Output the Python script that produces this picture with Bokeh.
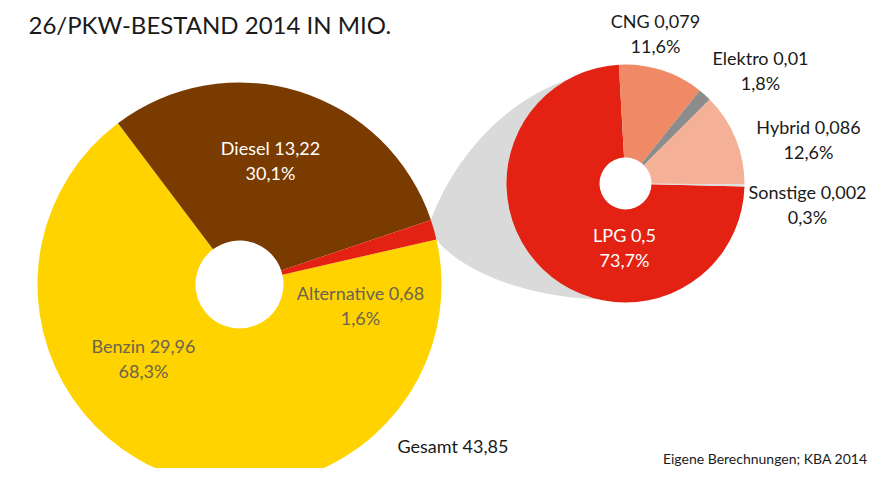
import math
from bokeh.plotting import figure
from bokeh.models import Range1d, ColumnDataSource
from bokeh.core.properties import value
from bokeh.embed import file_html
from bokeh.resources import INLINE

# ---------------- data ----------------
title_text = "26/PKW-BESTAND 2014 IN MIO."
source_text = "Eigene Berechnungen; KBA 2014"

total_categories = ["Benzin", "Diesel", "Alternative"]
total_values = [29.96, 13.22, 0.68]
total_shares = [68.3, 30.1, 1.6]
total_sum = 43.85
total_sum_label = "Gesamt"

alt_categories = ["LPG", "CNG", "Elektro", "Hybrid", "Sonstige"]
alt_values = [0.5, 0.079, 0.01, 0.086, 0.002]
alt_shares = [73.7, 11.6, 1.8, 12.6, 0.3]

# ---------------- styles / layout ----------------
total_colors = ["#FFD300", "#7A3B00", "#E32213"]
alt_colors = ["#E32213", "#F08966", "#8C8C8C", "#F5B197", "#DEDEDE"]
total_text_colors = ["#6B6450", "white", "#6B6450"]
alt_text_colors = ["white", "#1A1A1A", "#1A1A1A", "#1A1A1A", "#1A1A1A"]

# label centres (pixel positions, top-left origin)
total_label_pos = [(143, 345), (270, 147), (360, 292)]
alt_label_pos = [(624, 234), (655, 20), (760, 57), (808, 126), (807, 191)]
LINE_GAP = 25

FIG_W, FIG_H = 871, 468
PAGE_H = 484
FONT = "Lato"

# pie geometry (pixels)
L_CX, L_CY, L_R, L_r = 239, 284, 202, 44
R_CX, R_CY, R_R, R_r = 625, 183, 119, 26
L_START = -37.0 - total_shares[0] * 3.6   # clockwise-from-top degrees
R_START = -3.2 - alt_shares[0] * 3.6


def Y(ypx):
    return PAGE_H - ypx


def bk(theta_deg):
    # clockwise-from-top degrees -> bokeh radians (ccw from +x)
    return math.radians(90.0 - theta_deg)


def fmt(v):
    return str(v).replace(".", ",")


def pct(s):
    return ("%.1f" % s).replace(".", ",") + "%"


p = figure(width=FIG_W, height=FIG_H,
           x_range=Range1d(0, FIG_W), y_range=Range1d(Y(FIG_H), Y(0)),
           x_axis_type=None, y_axis_type=None,
           output_backend="svg", toolbar_location=None,
           min_border=0, min_border_left=0, min_border_right=0,
           min_border_top=0, min_border_bottom=0)
p.grid.visible = False
p.outline_line_color = None
p.background_fill_color = "white"
p.border_fill_color = "white"


def wedges(shares, start):
    starts, ends = [], []
    a = start
    for s in shares:
        b = a + s * 3.6
        starts.append(bk(b))
        ends.append(bk(a))
        a = b
    return starts, ends


# ---------------- gray connector (derived from pie geometry) ----------------
def cubic(p0, c1, c2, p3, n=40):
    pts = []
    for i in range(n + 1):
        t = i / n
        u = 1 - t
        x = u**3 * p0[0] + 3 * u * u * t * c1[0] + 3 * u * t * t * c2[0] + t**3 * p3[0]
        y = u**3 * p0[1] + 3 * u * u * t * c1[1] + 3 * u * t * t * c2[1] + t**3 * p3[1]
        pts.append((x, y))
    return pts


th_a = -37.0 + total_shares[1] * 3.6
th_b = th_a + total_shares[2] * 3.6
pt_top = (L_CX + L_R * math.sin(math.radians(th_a)), L_CY - L_R * math.cos(math.radians(th_a)))
pt_bot = (L_CX + L_R * math.sin(math.radians(th_b)), L_CY - L_R * math.cos(math.radians(th_b)))
top_curve = cubic(pt_top, (pt_top[0] + 20, pt_top[1] - 55), (R_CX - 115, R_CY - R_R + 11), (R_CX, R_CY - R_R + 3))
bot_curve = cubic(pt_bot, (pt_bot[0] + 24, pt_bot[1] + 31), (R_CX - 95, R_CY + R_R), (R_CX, R_CY + R_R - 3))
# close the shape inside the ring of the right pie (left of its hole)
poly = top_curve + [(R_CX - R_r - 15, R_CY)] + bot_curve[::-1]
p.patch([q[0] for q in poly], [Y(q[1]) for q in poly], fill_color="#DADADA", line_color=None)

# ---------------- left pie ----------------
ls, le = wedges(total_shares, L_START)
lsrc = ColumnDataSource(dict(x=[L_CX] * 3, y=[Y(L_CY)] * 3, s=ls, e=le, c=total_colors))
p.annular_wedge(x="x", y="y", inner_radius=L_r, outer_radius=L_R, start_angle="s", end_angle="e",
                fill_color="c", line_color=None, source=lsrc)

# ---------------- right pie ----------------
rs, re_ = wedges(alt_shares, R_START)
rsrc = ColumnDataSource(dict(x=[R_CX] * 5, y=[Y(R_CY)] * 5, s=rs, e=re_, c=alt_colors))
p.annular_wedge(x="x", y="y", inner_radius=R_r, outer_radius=R_R, start_angle="s", end_angle="e",
                fill_color="c", line_color=None, source=rsrc)

# ---------------- labels ----------------
tx, ty, tt, tc = [], [], [], []
for cat, v, s, (x, y), col in zip(total_categories, total_values, total_shares, total_label_pos, total_text_colors):
    tx += [x, x]; ty += [Y(y), Y(y + LINE_GAP)]
    tt += ["%s %s" % (cat, fmt(v)), pct(s)]; tc += [col, col]
for cat, v, s, (x, y), col in zip(alt_categories, alt_values, alt_shares, alt_label_pos, alt_text_colors):
    tx += [x, x]; ty += [Y(y), Y(y + LINE_GAP)]
    tt += ["%s %s" % (cat, fmt(v)), pct(s)]; tc += [col, col]
lab = ColumnDataSource(dict(x=tx, y=ty, t=tt, c=tc))
p.text(x="x", y="y", text="t", text_color="c", source=lab, text_font=value(FONT),
       text_font_size="18px", text_align="center", text_baseline="middle")

p.text(x=[397], y=[Y(445)], text=["%s %s" % (total_sum_label, fmt(total_sum))], text_font=value(FONT),
       text_font_size="18px", text_color="#1A1A1A", text_align="left", text_baseline="middle")

p.text(x=[28], y=[Y(24)], text=[title_text], text_font=value(FONT), text_font_size="24px",
       text_color="#1A1A1A", text_align="left", text_baseline="middle")

p.text(x=[867], y=[Y(458)], text=[source_text], text_font=value(FONT), text_font_size="14px",
       text_color="#1A1A1A", text_align="right", text_baseline="middle")

open("out.html", "w").write(file_html(p, INLINE))
